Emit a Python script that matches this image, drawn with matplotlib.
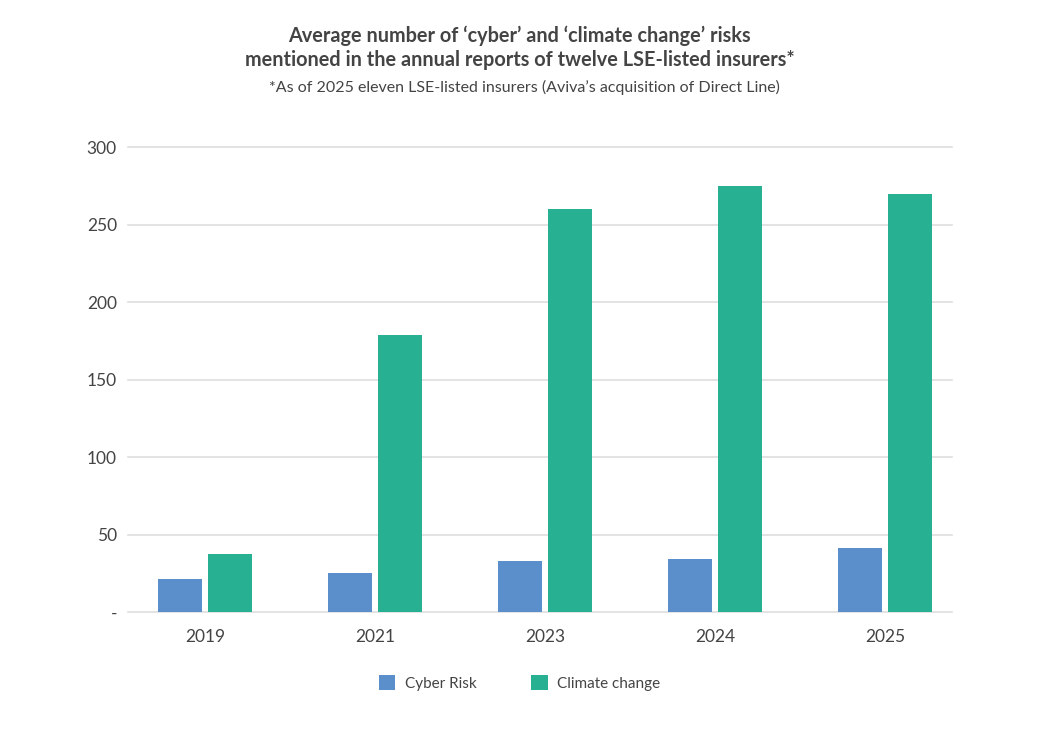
import numpy as np
import matplotlib.pyplot as plt
from matplotlib.patches import Patch

# data
years = ['2019', '2021', '2023', '2024', '2025']
cyber_risk = [21, 25, 33, 34, 41]
climate_change = [37.5, 179, 260, 275, 270]
y_ticks = [0, 50, 100, 150, 200, 250, 300]
y_tick_labels = ['-', '50', '100', '150', '200', '250', '300']

color_cyber = '#5b8fcc'
color_climate = '#27b092'
text_color = '#444444'

plt.rcParams['font.family'] = ['Lato', 'DejaVu Sans']

fig = plt.figure(figsize=(10.39, 7.35), dpi=100)
ax = fig.add_axes([0.1232, 0.1673, 0.7931, 0.6327])

x = np.arange(len(years))
width = 0.26
offset = 0.147
ax.bar(x - offset, cyber_risk, width, color=color_cyber, zorder=3)
ax.bar(x + offset, climate_change, width, color=color_climate, zorder=3)

ax.set_xlim(-0.453, 4.394)
ax.set_ylim(0, 300)
ax.set_yticks(y_ticks)
ax.set_yticklabels(y_tick_labels)
ax.set_xticks(x)
ax.set_xticklabels(years)
ax.tick_params(axis='both', length=0, labelsize=12.5, colors=text_color)
ax.tick_params(axis='y', pad=8)
ax.tick_params(axis='x', pad=12)
ax.grid(axis='y', color='#dedede', linewidth=1.2, zorder=0)
for s in ax.spines.values():
    s.set_visible(False)
for gl in ax.get_ygridlines():
    gl.set_clip_on(False)

# title block
fig.text(0.5, 0.935, "Average number of \u2018cyber\u2019 and \u2018climate change\u2019 risks\n"
         "mentioned in the annual reports of twelve LSE-listed insurers*",
         ha='center', va='center', fontsize=14.3, fontweight='bold',
         color=text_color, linespacing=1.3)
fig.text(0.505, 0.8816, "*As of 2025 eleven LSE-listed insurers (Aviva\u2019s acquisition of Direct Line)",
         ha='center', va='center', fontsize=11.5, color=text_color)

# legend below the axes
handles = [Patch(facecolor=color_cyber, label='Cyber Risk'),
           Patch(facecolor=color_climate, label='Climate change')]
fig.legend(handles=handles, loc='center', bbox_to_anchor=(0.5, 0.071), ncol=2,
           frameon=False, fontsize=11, handlelength=1.1, handleheight=1.1,
           columnspacing=3.6, handletextpad=0.6, labelcolor=text_color)

fig.savefig('out.png', dpi=100, facecolor='white')
